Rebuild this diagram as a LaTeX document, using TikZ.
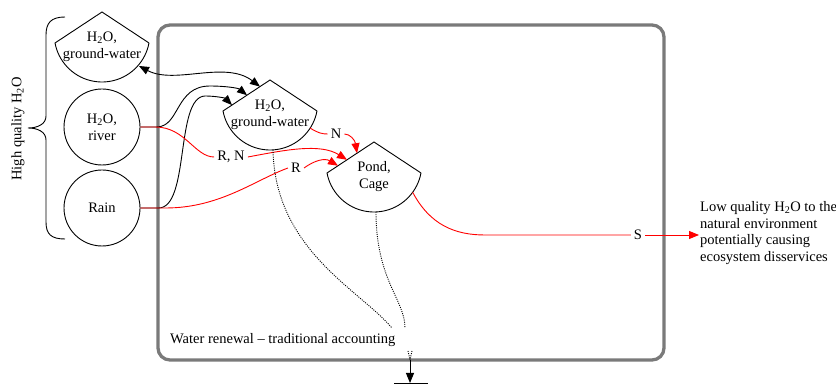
\documentclass[tikz,border=0pt]{standalone}
\usepackage{fontspec}
\setmainfont{Liberation Serif}
\usetikzlibrary{arrows.meta,calc}
\tikzset{
  shp/.style={draw=black, line width=0.9pt},
  txt/.style={font=\fontsize{14.5}{17}\selectfont, align=center, inner sep=1pt},
  blk/.style={draw=black, line width=0.9pt},
  blkar/.style={blk, -{Triangle[length=10pt,width=8pt]}},
  blkdbl/.style={blk, {Triangle[length=10pt,width=8pt]}-{Triangle[length=10pt,width=8pt]}},
  redln/.style={draw=red, line width=0.9pt},
  redar/.style={redln, -{Triangle[length=10pt,width=8pt]}},
  dots/.style={draw=black, line width=0.9pt, dash pattern=on 1pt off 1.2pt},
  frame/.style={draw=black!52, line width=3.3pt, rounded corners=12pt},
}
\newcommand\sectorat[2]{\draw[shp] (#1,#2-35) -- (#1+47,#2-4) -- plot[domain=10.6:169.4,samples=40] ({#1+47.8*cos(\x)},{#2-12.8+47.8*sin(\x)}) -- cycle;}
\begin{document}
\begin{tikzpicture}[x=1pt,y=-1pt]
\useasboundingbox (0,0) rectangle (836,387);
% frame
\draw[frame] (158,25) rectangle (664,360);
% brace
\draw[blk] (65,17) .. controls (51,17) and (46,23) .. (46,35) -- (46,116)
  .. controls (46,124) and (38,128) .. (28,128)
  .. controls (38,128) and (46,132) .. (46,140) -- (46,222)
  .. controls (46,234) and (51,239) .. (65,239);
\node[txt, rotate=90] (hq) at (18,129) {High quality H\textsubscript{2}O};
% nodes
\node[txt] (gw1) at (102,47) {H\textsubscript{2}O,\\ground-water};
\sectorat{102}{47}
\node[txt, draw, circle, line width=0.9pt, minimum size=76pt] (river) at (102,127) {H\textsubscript{2}O,\\river};
\node[txt, draw, circle, line width=0.9pt, minimum size=76pt] (rain) at (102,208) {Rain};
\node[txt] (gw2) at (270,115) {H\textsubscript{2}O,\\ground-water};
\sectorat{270}{115}
\node[txt] (pond) at (374,177) {Pond,\\Cage};
\sectorat{374}{177}
\node[txt, anchor=west, align=left, font=\fontsize{14.5}{16.5}\selectfont] (low) at (699,233)
  {Low quality H\textsubscript{2}O to the\\natural environment\\potentially causing\\ecosystem disservices};
\node[txt, anchor=west] (wr) at (169,340) {Water renewal – traditional accounting};
% labels
\node[txt, inner sep=3pt] (RN) at (231,157) {R, N};
\node[txt, inner sep=3pt] (R) at (296,168) {R};
\node[txt, inner sep=3pt] (N) at (336,134) {N};
\node[txt, inner sep=3pt] (S) at (638,235) {S};
% attach points
\coordinate (g1a) at (139,66);
\coordinate (g2a) at (260,86.6);
\coordinate (g2b) at (247,95.2);
\coordinate (g2c) at (232,105.1);
\coordinate (g2r) at (310,128);
\coordinate (g2bot) at (273,150);
\coordinate (pa) at (357,153.2);
\coordinate (pb) at (347,159.8);
\coordinate (pc) at (338,165.7);
\coordinate (pr) at (412.7,192.3);
\coordinate (pbot) at (376,212);
\coordinate (d1) at (392,328);
\coordinate (d2) at (405,328);
\coordinate (stubL) at (408,351);
\coordinate (stubR) at (412,351);
\coordinate (out) at (410,360);
\coordinate (outend) at (410,383);
\coordinate (barL) at (394,383);
\coordinate (barR) at (428,383);
% black connectors
\draw[blkdbl] (g1a) .. controls (175,85) and (225,60) .. (g2a);
\draw[blkar] (river.east) -- ++(16,0) .. controls (180,127) and (175,86) .. (210,86) .. controls (225,86) and (238,88) .. (g2b);
\draw[blkar] (rain.east) -- ++(18,0) .. controls (190,208) and (175,97) .. (205,96) .. controls (215,96) and (225,98) .. (g2c);
% red connectors
\draw[redln] (river.east) -- ++(15,0) .. controls (185,127) and (195,157) .. (RN.west);
\draw[redar] (RN.east) .. controls (285,150) and (320,143) .. (pb);
\draw[redln] (rain.east) -- ++(25,0) .. controls (220,208) and (255,180) .. (R.west);
\draw[redar] (R.east) .. controls (315,160) and (325,158) .. (pc);
\draw[redln] (g2r) .. controls (318,133) and (322,134) .. (N.west);
\draw[redar] (N.east) .. controls (350,134) and (355,140) .. (pa);
\draw[redln] (pr) .. controls (430,225) and (455,235) .. (485,235) -- (S.west);
\draw[redar] (S.east) -- (S.east -| low.west);
% dotted
\draw[dots] (g2bot) .. controls (275,250) and (360,290) .. (d1);
\draw[dots] (pbot) .. controls (376,280) and (405,300) .. (d2);
\draw[dots] (stubL) -- (out);
\draw[dots] (stubR) -- (out);
\draw[blkar] (out) -- (outend);
\draw[blk] (barL) -- (barR);
\end{tikzpicture}
\end{document}
